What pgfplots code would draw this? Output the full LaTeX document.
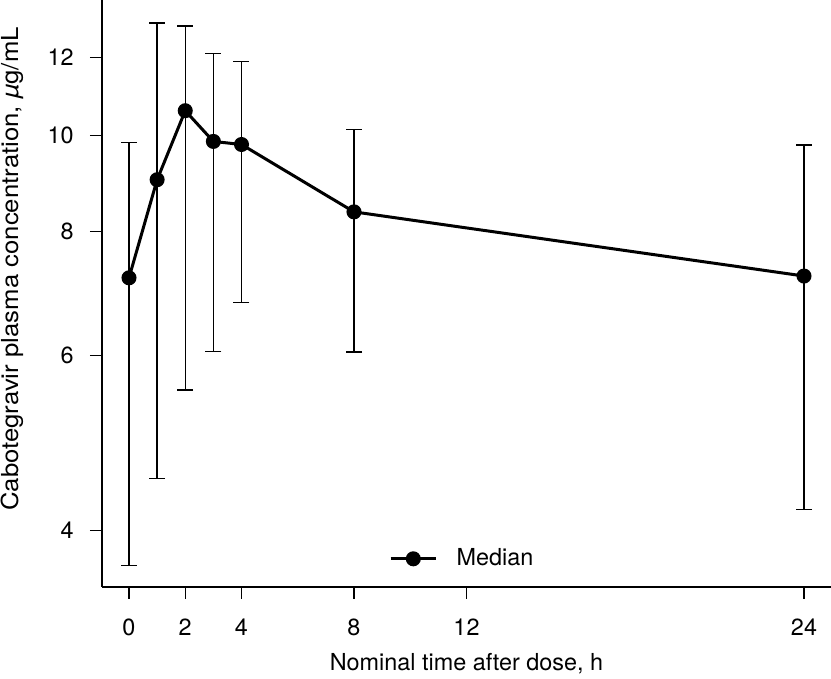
\documentclass[border=0pt]{standalone}
\usepackage{pgfplots}
\pgfplotsset{compat=1.18}
\usepackage{fontspec}
\setmainfont{TeX Gyre Heros}
\newfontfamily\ylabfont{TeX Gyre Heros}[FakeStretch=1.1]
\pgfplotstableread{
t med plus minus
0 7.19 2.65 3.505
1 9.03 3.97 4.52
2 10.60 2.31 5.06
3 9.87 2.23 3.81
4 9.80 2.08 3.01
8 8.38 1.77 2.33
24 7.22 2.57 3.02
}\datatab
\begin{document}
\begin{tikzpicture}[font=\fontsize{11.7}{14}\selectfont]
\path[use as bounding box] (-51pt,-46pt) rectangle (364.5pt,293.5pt);
\begin{axis}[
  at={(0,0)}, anchor=south west,
  scale only axis, width=364.5pt, height=293.5pt,
  xmin=-0.96, xmax=24.96,
  ymode=log, ymin=3.506, ymax=13.71,
  axis x line*=bottom, axis y line*=left,
  axis line style={line width=0.75pt, -},
  xtick={0,2,4,8,12,24},
  ytick={4,6,8,10,12}, yticklabels={4,6,8,10,12},
  minor ytick={}, log ticks with fixed point,
  tick align=outside, major tick length=6pt,
  tick style={line width=0.6pt, black},
  /pgf/number format/assume math mode=true,
  ticklabel style={font=\fontsize{11.7}{14}\selectfont},
  yticklabel style={xshift=-4.6pt},
  xticklabel style={yshift=-6.5pt},
  xlabel={Nominal time after dose, h},
  ylabel={\ylabfont Cabotegravir plasma concentration, \textit{µ}g/mL},
  xlabel style={at={(axis description cs:0.5,-0.131)}, anchor=center},
  ylabel style={at={(axis description cs:-0.1235,0.5417)}, anchor=center},
  legend style={draw=none, fill=none, at={(0.385,0.048)}, anchor=west, font=\fontsize{11.7}{14}\selectfont},
  legend image code/.code={\draw[mark repeat=2,mark phase=2] plot coordinates {(0cm,0cm)(0.4cm,0cm)(0.8cm,0cm)};},
]
\addplot[black, line width=0.65pt, mark=none, forget plot,
  draw=none,
  error bars/.cd, y dir=both, y explicit,
  error mark options={black, line width=0.7pt, mark size=4pt, rotate=90},
  error bar style={line width=0.7pt, black}]
  table[x=t, y=med, y error plus=plus, y error minus=minus] {\datatab};
\addplot[black, line width=1.5pt, mark=*, mark size=3pt, mark options={solid, fill=black}]
  table[x=t, y=med] {\datatab};
\addlegendentry{\hspace{7.5pt}Median}
\end{axis}
\end{tikzpicture}
\end{document}
